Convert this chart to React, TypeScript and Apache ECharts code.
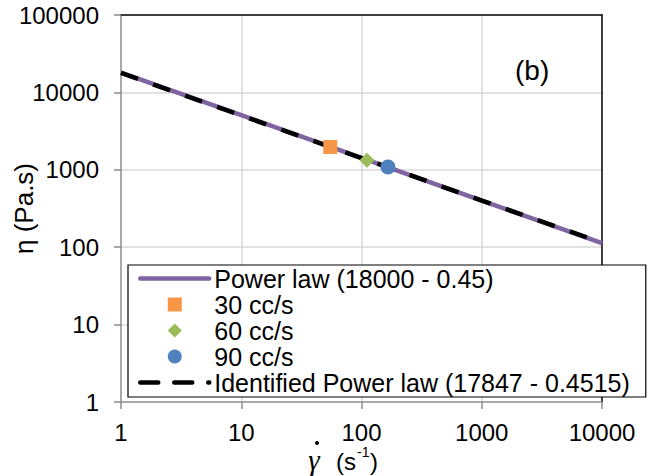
import React, { useEffect, useRef } from "react";
import * as echarts from "echarts";

// ---- data ----
const powerLawX = [1, 10, 100, 1000, 10000];
const powerLawY = [18000, 5100, 1430, 400, 113];
const identifiedX = [1, 10, 100, 1000, 10000];
const identifiedY = [17847, 5030, 1420, 401, 114];
const flow30X = [55];
const flow30Y = [1970];
const flow60X = [111];
const flow60Y = [1330];
const flow90X = [166];
const flow90Y = [1090];

const seriesNames = [
  "Power law (18000 - 0.45)",
  "30 cc/s",
  "60 cc/s",
  "90 cc/s",
  "Identified Power law (17847 - 0.4515)",
];

const pair = (xs: number[], ys: number[]) => xs.map((x, i) => [x, ys[i]]);

const FONT = "'Liberation Sans', Arial, sans-serif";
const fmt = (v: number) => String(Math.round(v));

export default function App() {
  const ref = useRef<HTMLDivElement>(null);

  useEffect(() => {
    if (!ref.current) return;
    const chart = echarts.init(ref.current, undefined, { renderer: "svg" });
    const axisGray = "#8c8c8c";
    const gridGray = "#d9d9d9";
    const hiddenAxisBits = {
      axisTick: { show: false },
      axisLabel: { show: false },
      splitLine: { show: false },
      minorTick: { show: false },
    };
    chart.setOption({
      animation: false,
      backgroundColor: "#ffffff",
      textStyle: { fontFamily: FONT },
      grid: {
        left: 121,
        right: 54,
        top: 15,
        bottom: 74,
        containLabel: false,
        outerBoundsMode: "none",
      },
      xAxis: [
        {
          type: "log",
          logBase: 10,
          min: 1,
          max: 10000,
          axisLine: { show: true, lineStyle: { color: axisGray, width: 1.5 } },
          axisTick: { show: true, length: 7, lineStyle: { color: axisGray, width: 1.5 } },
          minorTick: { show: false },
          splitLine: { show: true, showMinLine: false, showMaxLine: false, lineStyle: { color: gridGray, width: 1.5 } },
          axisLabel: {
            color: "#000",
            fontSize: 24,
            fontFamily: FONT,
            margin: 18,
            showMinLabel: true,
            showMaxLabel: true,
            formatter: fmt,
          },
        },
        {
          type: "log",
          logBase: 10,
          min: 1,
          max: 10000,
          position: "top",
          axisLine: { show: true, lineStyle: { color: "#000", width: 1.5 } },
          ...hiddenAxisBits,
        },
      ],
      yAxis: [
        {
          type: "log",
          logBase: 10,
          min: 1,
          max: 100000,
          name: "η (Pa.s)",
          nameLocation: "middle",
          nameRotate: 90,
          nameGap: 84,
          nameMoveOverlap: false,
          nameTextStyle: { color: "#000", fontSize: 26, fontFamily: FONT },
          axisLine: { show: true, lineStyle: { color: axisGray, width: 1.5 } },
          axisTick: { show: true, length: 7, lineStyle: { color: axisGray, width: 1.5 } },
          minorTick: { show: false },
          splitLine: { show: true, showMinLine: false, showMaxLine: false, lineStyle: { color: gridGray, width: 1.5 } },
          axisLabel: {
            color: "#000",
            fontSize: 24,
            fontFamily: FONT,
            margin: 22,
            showMinLabel: true,
            showMaxLabel: true,
            formatter: fmt,
          },
        },
        {
          type: "log",
          logBase: 10,
          min: 1,
          max: 100000,
          position: "right",
          axisLine: { show: true, lineStyle: { color: "#000", width: 1.5 } },
          ...hiddenAxisBits,
        },
      ],
      legend: {
        orient: "vertical",
        left: 128,
        top: 265,
        data: [
          {
            name: seriesNames[0],
            itemStyle: { opacity: 0 },
            lineStyle: { width: 4.5, color: "#8064A2", type: "solid", cap: "round" },
          },
          { name: seriesNames[1], icon: "path://M0,0L10,0L10,10L0,10Z" },
          { name: seriesNames[2], icon: "path://M5,0L10,5L5,10L0,5Z" },
          { name: seriesNames[3], icon: "circle" },
          {
            name: seriesNames[4],
            itemStyle: { opacity: 0 },
            lineStyle: { width: 4.5, color: "#000", cap: "round" },
          },
        ],
        itemWidth: 69,
        itemHeight: 14,
        itemGap: 1,
        symbolKeepAspect: true,
        padding: [1, 16, 2, 10],
        backgroundColor: "#fff",
        borderColor: "#000",
        borderWidth: 1.2,
        selectedMode: false,
        textStyle: { color: "#000", fontSize: 25, lineHeight: 25, fontFamily: FONT },
      },
      graphic: [
        {
          type: "text",
          left: 515,
          top: 56,
          style: { text: "(b)", fontSize: 28, fontFamily: FONT, fill: "#000" },
          z: 100,
        },
        {
          type: "text",
          x: 314,
          y: 460,
          style: {
            text: "γ",
            fontSize: 29,
            fontStyle: "italic",
            fontFamily: "'Liberation Serif', 'DejaVu Serif', serif",
            fill: "#000",
            align: "center",
            verticalAlign: "middle",
          },
        },
        {
          type: "circle",
          shape: { cx: 317, cy: 443, r: 2 },
          style: { fill: "#000" },
        },
        {
          type: "text",
          x: 336,
          y: 461,
          style: { text: "(s", fontSize: 24, fontFamily: FONT, fill: "#000", align: "left", verticalAlign: "middle" },
        },
        {
          type: "text",
          x: 357,
          y: 452,
          style: { text: "-1", fontSize: 14, fontFamily: FONT, fill: "#000", align: "left", verticalAlign: "middle" },
        },
        {
          type: "text",
          x: 370,
          y: 461,
          style: { text: ")", fontSize: 24, fontFamily: FONT, fill: "#000", align: "left", verticalAlign: "middle" },
        },
      ],
      series: [
        {
          name: seriesNames[0],
          type: "line",
          data: pair(powerLawX, powerLawY),
          symbol: "none",
          z: 2,
          lineStyle: { color: "#8064A2", width: 4.5 },
          itemStyle: { color: "#8064A2" },
        },
        {
          name: seriesNames[1],
          type: "scatter",
          data: pair(flow30X, flow30Y),
          symbol: "rect",
          symbolSize: 14,
          z: 5,
          itemStyle: { color: "#F79646", opacity: 1 },
        },
        {
          name: seriesNames[2],
          type: "scatter",
          data: pair(flow60X, flow60Y),
          symbol: "diamond",
          symbolSize: 15,
          z: 5,
          itemStyle: { color: "#9BBB59", opacity: 1 },
        },
        {
          name: seriesNames[3],
          type: "scatter",
          data: pair(flow90X, flow90Y),
          symbol: "circle",
          symbolSize: 15,
          z: 5,
          itemStyle: { color: "#4F81BD", opacity: 1 },
        },
        {
          name: seriesNames[4],
          type: "line",
          data: pair(identifiedX, identifiedY),
          symbol: "none",
          z: 3,
          lineStyle: { color: "#000", width: 4.5, type: [18, 16] },
          itemStyle: { color: "#000" },
        },
      ],
    });
    return () => chart.dispose();
  }, []);

  return (
    <div
      ref={ref}
      style={{ position: "fixed", left: 0, top: 0, width: 656, height: 476, background: "#fff" }}
    />
  );
}
